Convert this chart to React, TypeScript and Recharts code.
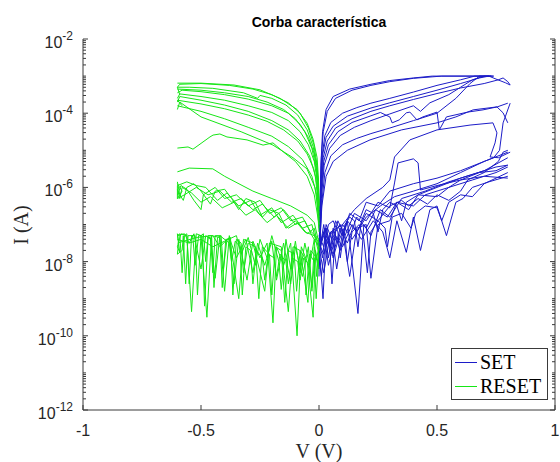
import { LineChart, Line, XAxis, YAxis } from 'recharts'

// each curve: [V, log10(I)] pairs
type Pt = [number, number]

// SET sweeps (blue), high-current branch
const setU1: Pt[] = [[0, -8.4], [0.004, -6.6], [0.008, -5.4], [0.015, -4.5], [0.03, -3.9], [0.06, -3.55], [0.13, -3.35], [0.22, -3.22], [0.3, -3.12], [0.4, -3.05], [0.48, -3.0], [0.72, -3.0], [0.75, -3.08], [0.79, -3.18], [0.81, -3.24]]
const setU2: Pt[] = [[0, -7.9], [0.005, -6.3], [0.01, -5.2], [0.018, -4.5], [0.035, -3.95], [0.07, -3.6], [0.14, -3.38], [0.22, -3.25], [0.3, -3.15], [0.4, -3.06], [0.52, -3.0], [0.74, -3.0]]
const setU3: Pt[] = [[0, -8.1], [0.006, -6.3], [0.012, -5.2], [0.025, -4.6], [0.05, -4.25], [0.1, -4.0], [0.16, -3.85], [0.22, -3.73], [0.3, -3.6], [0.4, -3.43], [0.5, -3.25], [0.6, -3.1], [0.66, -3.0], [0.73, -3.0]]
const setU4: Pt[] = [[0, -7.7], [0.008, -6.0], [0.016, -5.1], [0.03, -4.65], [0.06, -4.35], [0.12, -4.08], [0.22, -3.86], [0.3, -3.72], [0.4, -3.55], [0.5, -3.38], [0.6, -3.2], [0.68, -3.05], [0.72, -3.0]]
const setU5: Pt[] = [[0, -8.0], [0.008, -6.2], [0.018, -5.2], [0.035, -4.75], [0.07, -4.4], [0.14, -4.15], [0.22, -3.95], [0.3, -3.8], [0.4, -3.63], [0.5, -3.47], [0.6, -3.32], [0.7, -3.2], [0.76, -3.1], [0.78, -3.05], [0.8, -3.15], [0.81, -3.24]]
const setU6: Pt[] = [[0, -7.8], [0.01, -6.1], [0.02, -5.3], [0.04, -4.85], [0.08, -4.5], [0.14, -4.25], [0.22, -4.07], [0.26, -3.98], [0.3, -4.1], [0.31, -4.26], [0.34, -4.18], [0.37, -3.99], [0.385, -3.97], [0.415, -4.18], [0.44, -4.1], [0.5, -3.97], [0.51, -4.45], [0.54, -4.1], [0.63, -3.97], [0.695, -3.91], [0.755, -3.83], [0.8, -3.73]]
const setU7: Pt[] = [[0, -8.2], [0.01, -6.3], [0.022, -5.4], [0.045, -4.95], [0.09, -4.6], [0.15, -4.38], [0.22, -4.2], [0.3, -4.02], [0.4, -3.8], [0.43, -3.95], [0.47, -3.72], [0.55, -3.5], [0.6, -3.3], [0.65, -3.1], [0.7, -3.0], [0.74, -3.0]]
const setU8: Pt[] = [[0, -7.9], [0.012, -6.4], [0.025, -5.6], [0.05, -5.15], [0.1, -4.85], [0.16, -4.68], [0.22, -4.55], [0.3, -4.4], [0.4, -4.2], [0.5, -4.0], [0.58, -3.6], [0.64, -3.2], [0.68, -3.0], [0.73, -3.0]]
const setU9: Pt[] = [[0, -8.0], [0.012, -6.5], [0.03, -5.7], [0.06, -5.3], [0.12, -5.0], [0.216, -4.72], [0.35, -4.45], [0.5, -4.26], [0.58, -4.1], [0.653, -3.91], [0.754, -3.83], [0.78, -3.99], [0.8, -4.26]]

// SET sweeps (blue), low-current noisy branch
const setN1: Pt[] = [[0, -7.5], [0.017, -9.0], [0.03, -7.3], [0.05, -7.6], [0.07, -6.9], [0.1, -7.3], [0.13, -6.7], [0.17, -6.9], [0.2, -6.4], [0.25, -6.5], [0.3, -6.1], [0.4, -5.9], [0.5, -5.75], [0.6, -5.55], [0.7, -5.3], [0.8, -5.05]]
const setN2: Pt[] = [[0, -7.8], [0.02, -7.0], [0.04, -7.9], [0.06, -7.1], [0.09, -7.7], [0.12, -6.9], [0.165, -9.4], [0.19, -7.0], [0.22, -7.3], [0.26, -6.6], [0.3, -6.8], [0.35, -6.3], [0.45, -6.1], [0.55, -5.85], [0.65, -5.65], [0.75, -5.45], [0.8, -5.4]]
const setN3: Pt[] = [[0, -7.4], [0.015, -7.9], [0.03, -7.0], [0.06, -7.5], [0.075, -8.2], [0.1, -7.2], [0.13, -8.4], [0.16, -7.1], [0.2, -7.0], [0.22, -8.45], [0.25, -7.0], [0.3, -6.9], [0.33, -6.4], [0.4, -6.5], [0.45, -6.2], [0.55, -6.0], [0.65, -5.8], [0.75, -5.6], [0.8, -5.45]]
const setN4: Pt[] = [[0, -7.7], [0.02, -7.2], [0.04, -8.1], [0.07, -7.3], [0.1, -7.6], [0.14, -7.0], [0.18, -7.4], [0.23, -6.9], [0.27, -7.2], [0.3, -7.9], [0.33, -6.9], [0.37, -7.75], [0.4, -6.8], [0.43, -7.7], [0.47, -6.6], [0.5, -6.5], [0.54, -7.3], [0.58, -6.4], [0.61, -6.3], [0.65, -6.0], [0.72, -5.85], [0.8, -5.7]]
const setN5: Pt[] = [[0, -7.6], [0.025, -7.1], [0.05, -7.7], [0.08, -6.9], [0.11, -7.3], [0.15, -6.7], [0.2, -6.9], [0.25, -6.4], [0.3, -6.55], [0.32, -5.88], [0.335, -5.34], [0.4, -5.23], [0.42, -5.34], [0.43, -6.07], [0.5, -5.95], [0.6, -5.8], [0.7, -5.7], [0.8, -5.75]]
const setN6: Pt[] = [[0, -7.9], [0.01, -8.4], [0.03, -7.4], [0.06, -7.8], [0.09, -7.1], [0.12, -7.5], [0.16, -6.8], [0.2, -7.1], [0.24, -6.6], [0.29, -6.8], [0.33, -6.4], [0.38, -6.6], [0.42, -6.2], [0.5, -6.25], [0.55, -6.0], [0.6, -5.8], [0.68, -5.6], [0.75, -5.55], [0.8, -5.4]]
const setN7: Pt[] = [[0, -7.5], [0.02, -7.8], [0.05, -7.2], [0.08, -7.5], [0.12, -6.9], [0.16, -7.2], [0.2, -6.7], [0.25, -6.9], [0.3, -6.5], [0.35, -6.35], [0.38, -6.5], [0.42, -6.3], [0.46, -6.45], [0.5, -6.2], [0.55, -6.35], [0.6, -6.1], [0.63, -5.8], [0.7, -5.6], [0.76, -5.3], [0.78, -5.05], [0.8, -5.0]]
const setN8: Pt[] = [[0, -7.3], [0.02, -7.6], [0.04, -7.0], [0.06, -6.9], [0.08, -7.2], [0.09, -7.9], [0.11, -7.0], [0.13, -6.8], [0.15, -6.9], [0.165, -7.6], [0.18, -6.9], [0.2, -6.6], [0.23, -6.7], [0.25, -7.2], [0.27, -6.6], [0.3, -6.4], [0.33, -6.5], [0.35, -6.9], [0.37, -6.4], [0.42, -6.2], [0.5, -6.0], [0.6, -5.75], [0.7, -5.55], [0.8, -5.2]]
const setN9: Pt[] = [[0, -7.9], [0.015, -7.3], [0.03, -7.1], [0.045, -7.5], [0.055, -8.6], [0.07, -7.2], [0.09, -7.0], [0.11, -7.3], [0.12, -8.0], [0.14, -7.2], [0.17, -7.0], [0.19, -7.4], [0.205, -8.3], [0.22, -7.2], [0.25, -6.9], [0.28, -7.1], [0.29, -7.6], [0.31, -6.8], [0.35, -6.7], [0.39, -7.1], [0.41, -6.7], [0.45, -6.5], [0.5, -6.55], [0.52, -6.9], [0.55, -6.4], [0.6, -6.2], [0.65, -6.25], [0.7, -5.9], [0.75, -5.75], [0.8, -5.6]]
const setC1: Pt[] = [[0, -7.6], [0.02, -8.3], [0.05, -7.2], [0.1, -7.0], [0.15, -6.6], [0.2, -6.3], [0.27, -6.0], [0.3, -5.8], [0.32, -5.18], [0.385, -4.72], [0.5, -4.45], [0.64, -4.32], [0.737, -4.26], [0.754, -4.53], [0.746, -4.8], [0.725, -5.18], [0.76, -5.2], [0.81, -5.05]]
const setC2: Pt[] = [[0, -7.7], [0.03, -7.1], [0.06, -7.9], [0.1, -7.0], [0.14, -7.4], [0.2, -6.8], [0.26, -6.5], [0.32, -6.25], [0.4, -6.1], [0.5, -5.9], [0.6, -5.6], [0.7, -5.3], [0.74, -5.2], [0.765, -5.0], [0.78, -4.26], [0.81, -3.73]]

// RESET sweeps (green), high-current branch
const resetH1: Pt[] = [[-0.6, -3.19], [-0.5, -3.19], [-0.36, -3.24], [-0.25, -3.37], [-0.165, -3.6], [-0.093, -3.9], [-0.05, -4.27], [-0.025, -4.7], [-0.008, -5.2], [-0.002, -5.8], [0, -6.6]]
const resetH2: Pt[] = [[-0.6, -3.3], [-0.59, -3.22], [-0.5, -3.2], [-0.38, -3.25], [-0.28, -3.35], [-0.2, -3.5], [-0.13, -3.72], [-0.08, -4.0], [-0.045, -4.4], [-0.022, -4.85], [-0.008, -5.4], [0, -6.4]]
const resetH3: Pt[] = [[-0.59, -3.5], [-0.6, -3.3], [-0.55, -3.3], [-0.45, -3.33], [-0.32, -3.45], [-0.26, -3.6], [-0.25, -3.52], [-0.2, -3.6], [-0.14, -3.78], [-0.09, -4.05], [-0.05, -4.45], [-0.025, -4.9], [-0.01, -5.4], [0, -6.5]]
const resetH4: Pt[] = [[-0.6, -3.45], [-0.58, -3.38], [-0.5, -3.42], [-0.4, -3.5], [-0.3, -3.62], [-0.2, -3.8], [-0.13, -4.0], [-0.08, -4.3], [-0.045, -4.65], [-0.02, -5.1], [-0.006, -5.7], [0, -6.9]]
const resetH5: Pt[] = [[-0.6, -3.6], [-0.59, -3.48], [-0.5, -3.55], [-0.4, -3.65], [-0.3, -3.8], [-0.2, -3.98], [-0.13, -4.2], [-0.08, -4.5], [-0.045, -4.85], [-0.02, -5.3], [-0.006, -5.9], [0, -7.0]]
const resetH6: Pt[] = [[-0.58, -3.8], [-0.6, -3.65], [-0.5, -3.75], [-0.4, -3.88], [-0.3, -4.05], [-0.22, -4.22], [-0.15, -4.45], [-0.09, -4.75], [-0.05, -5.1], [-0.022, -5.5], [-0.007, -6.0], [0, -7.1]]
const resetH7: Pt[] = [[-0.6, -3.8], [-0.5, -3.95], [-0.4, -4.15], [-0.3, -4.38], [-0.2, -4.62], [-0.13, -4.9], [-0.07, -5.25], [-0.03, -5.7], [-0.01, -6.2], [0, -7.2]]
const resetH8: Pt[] = [[-0.6, -3.9], [-0.59, -3.7], [-0.5, -4.1], [-0.33, -4.5], [-0.195, -4.86], [-0.11, -5.2], [-0.051, -5.5], [-0.017, -6.0], [0, -6.8]]
const resetH9: Pt[] = [[-0.6, -3.35], [-0.5, -3.38], [-0.4, -3.45], [-0.3, -3.55], [-0.22, -3.7], [-0.15, -3.9], [-0.1, -4.15], [-0.06, -4.5], [-0.03, -4.95], [-0.012, -5.5], [0, -6.5]]
const resetH10: Pt[] = [[-0.6, -3.7], [-0.59, -3.55], [-0.5, -3.65], [-0.4, -3.78], [-0.3, -3.95], [-0.2, -4.2], [-0.13, -4.45], [-0.08, -4.75], [-0.04, -5.15], [-0.015, -5.7], [0, -6.7]]

// RESET sweeps (green), intermediate branch
const resetM1: Pt[] = [[-0.6, -4.94], [-0.555, -4.91], [-0.534, -4.97], [-0.462, -4.64], [-0.449, -4.59], [-0.42, -4.56], [-0.39, -4.64], [-0.305, -4.72], [-0.237, -4.86], [-0.195, -4.8], [-0.15, -5.05], [-0.1, -5.3], [-0.05, -5.7], [-0.02, -6.2], [0, -7.0]]
const resetM2: Pt[] = [[-0.6, -5.58], [-0.55, -5.48], [-0.45, -5.5], [-0.4, -5.7], [-0.28, -6.1], [-0.2, -6.3], [-0.12, -6.5], [-0.05, -6.75], [-0.02, -6.95], [0, -7.5]]
const resetM3: Pt[] = [[-0.6, -5.9], [-0.58, -6.1], [-0.6, -6.3], [-0.57, -6.2], [-0.52, -6.0], [-0.47, -6.2], [-0.42, -6.1], [-0.37, -6.4], [-0.33, -6.3], [-0.28, -6.6], [-0.24, -6.45], [-0.19, -6.8], [-0.15, -6.6], [-0.1, -7.0], [-0.06, -6.9], [-0.03, -7.3], [0, -7.6]]
const resetM4: Pt[] = [[-0.6, -6.05], [-0.59, -6.3], [-0.58, -6.0], [-0.54, -6.15], [-0.5, -6.4], [-0.46, -6.25], [-0.41, -6.55], [-0.36, -6.4], [-0.31, -6.75], [-0.27, -6.6], [-0.22, -6.95], [-0.18, -6.75], [-0.13, -7.1], [-0.09, -6.95], [-0.05, -7.25], [-0.02, -7.1], [0, -7.7]]
const resetM5: Pt[] = [[-0.6, -6.2], [-0.585, -5.95], [-0.56, -6.05], [-0.53, -6.35], [-0.5, -6.6], [-0.49, -6.2], [-0.44, -6.0], [-0.4, -6.3], [-0.35, -6.2], [-0.3, -6.5], [-0.25, -6.35], [-0.21, -6.7], [-0.16, -6.55], [-0.12, -6.9], [-0.07, -6.8], [-0.04, -7.15], [0, -7.4]]
const resetM6: Pt[] = [[-0.6, -6.3], [-0.6, -5.95], [-0.56, -5.85], [-0.52, -5.95], [-0.48, -6.0], [-0.43, -6.35], [-0.39, -6.15], [-0.34, -6.5], [-0.29, -6.35], [-0.25, -6.75], [-0.2, -6.55], [-0.16, -6.95], [-0.11, -6.75], [-0.07, -7.1], [-0.03, -7.0], [0, -7.8]]
const resetM7: Pt[] = [[-0.6, -5.85], [-0.59, -6.2], [-0.575, -6.35], [-0.56, -6.0], [-0.53, -5.9], [-0.5, -6.1], [-0.46, -6.45], [-0.44, -6.1], [-0.4, -6.05], [-0.37, -6.3], [-0.34, -6.6], [-0.31, -6.3], [-0.27, -6.4], [-0.24, -6.8], [-0.21, -6.6], [-0.17, -6.7], [-0.14, -7.1], [-0.1, -6.9], [-0.06, -7.2], [-0.02, -7.3], [0, -7.5]]

// RESET sweeps (green), low-current noisy branch
const resetL1: Pt[] = [[-0.6, -7.25], [-0.59, -7.75], [-0.6, -7.6], [-0.585, -7.25], [-0.56, -7.3], [-0.54, -9.35], [-0.52, -7.25], [-0.5, -7.3], [-0.475, -9.5], [-0.455, -7.3], [-0.42, -7.35], [-0.4, -8.8], [-0.38, -7.3], [-0.34, -9.0], [-0.32, -7.4], [-0.28, -7.5], [-0.23, -8.8], [-0.21, -7.5], [-0.16, -7.6], [-0.13, -9.35], [-0.11, -7.6], [-0.08, -7.7], [-0.047, -9.1], [-0.035, -7.7], [-0.01, -7.9], [0, -7.6]]
const resetL2: Pt[] = [[-0.6, -7.3], [-0.57, -7.25], [-0.55, -7.5], [-0.53, -7.25], [-0.5, -8.2], [-0.48, -7.3], [-0.46, -7.4], [-0.44, -8.45], [-0.42, -7.3], [-0.38, -7.5], [-0.36, -8.6], [-0.34, -7.4], [-0.305, -8.5], [-0.28, -7.45], [-0.25, -7.9], [-0.22, -7.5], [-0.195, -9.65], [-0.18, -7.6], [-0.15, -8.1], [-0.12, -7.5], [-0.093, -10.0], [-0.075, -7.6], [-0.05, -8.0], [-0.025, -9.5], [-0.015, -7.7], [0, -8.2]]
const resetL3: Pt[] = [[-0.6, -7.4], [-0.55, -7.5], [-0.5, -7.4], [-0.45, -7.6], [-0.4, -7.45], [-0.35, -7.3], [-0.33, -7.8], [-0.3, -7.35], [-0.27, -8.1], [-0.25, -7.4], [-0.22, -7.9], [-0.2, -7.3], [-0.17, -8.0], [-0.16, -8.75], [-0.14, -7.4], [-0.12, -8.2], [-0.1, -7.45], [-0.08, -8.3], [-0.06, -7.5], [-0.04, -8.1], [-0.02, -7.4], [-0.01, -8.4], [0, -7.6]]
const resetL4: Pt[] = [[-0.6, -7.5], [-0.52, -7.35], [-0.45, -7.3], [-0.42, -7.6], [-0.38, -7.35], [-0.35, -7.9], [-0.31, -7.4], [-0.28, -8.3], [-0.26, -7.5], [-0.23, -8.1], [-0.2, -7.45], [-0.18, -8.5], [-0.15, -7.5], [-0.12, -8.6], [-0.1, -7.6], [-0.07, -8.4], [-0.045, -7.6], [-0.03, -8.7], [-0.02, -7.6], [-0.005, -8.1], [0, -7.5]]
const resetL5: Pt[] = [[-0.6, -7.3], [-0.59, -7.25], [-0.58, -8.3], [-0.57, -7.3], [-0.56, -7.25], [-0.55, -8.6], [-0.54, -7.3], [-0.525, -7.3], [-0.515, -8.9], [-0.5, -7.3], [-0.49, -7.25], [-0.48, -8.0], [-0.47, -7.3], [-0.455, -7.3], [-0.445, -8.7], [-0.43, -7.35], [-0.415, -7.3], [-0.405, -8.2], [-0.39, -7.4], [-0.375, -7.35], [-0.365, -8.9], [-0.35, -7.4], [-0.33, -7.5], [-0.32, -8.3], [-0.3, -7.5], [-0.27, -7.6], [-0.255, -9.0], [-0.24, -7.6], [-0.21, -7.8], [-0.2, -8.9], [-0.185, -7.6], [-0.16, -7.7], [-0.145, -9.1], [-0.13, -7.7], [-0.105, -7.8], [-0.095, -8.8], [-0.08, -7.7], [-0.06, -7.9], [-0.055, -8.9], [-0.04, -7.8], [-0.02, -8.0], [-0.012, -9.0], [0, -7.8]]
const resetL6: Pt[] = [[-0.6, -7.25], [-0.595, -7.5], [-0.6, -7.8], [-0.58, -7.7], [-0.575, -7.3], [-0.565, -8.6], [-0.555, -7.3], [-0.535, -7.3], [-0.525, -8.1], [-0.51, -7.3], [-0.495, -7.3], [-0.485, -9.2], [-0.47, -7.35], [-0.46, -7.35], [-0.45, -8.3], [-0.44, -7.3], [-0.42, -7.3], [-0.41, -8.7], [-0.395, -7.4], [-0.38, -7.4], [-0.37, -8.0], [-0.355, -7.45], [-0.335, -7.6], [-0.325, -8.9], [-0.31, -7.6], [-0.29, -7.7], [-0.28, -8.6], [-0.265, -7.7], [-0.24, -7.9], [-0.23, -8.5], [-0.215, -7.8], [-0.19, -7.9], [-0.18, -8.4], [-0.165, -7.8], [-0.14, -8.0], [-0.13, -8.6], [-0.115, -7.9], [-0.09, -8.0], [-0.08, -8.5], [-0.065, -7.9], [-0.04, -8.1], [-0.03, -8.8], [-0.018, -7.9], [0, -8.0]]

const setCurves = [setU1, setU2, setU3, setU4, setU5, setU6, setU7, setU8, setU9, setN1, setN2, setN3, setN4, setN5, setN6, setN7, setN8, setN9, setC1, setC2]
const resetCurves = [resetH1, resetH2, resetH3, resetH4, resetH5, resetH6, resetH7, resetH8, resetH9, resetH10, resetM1, resetM2, resetM3, resetM4, resetM5, resetM6, resetM7, resetL1, resetL2, resetL3, resetL4, resetL5, resetL6]

const xTicks = [-1, -0.5, 0, 0.5, 1]
const decades = [-12, -11, -10, -9, -8, -7, -6, -5, -4, -3]
const labelledDecades = [-12, -10, -8, -6, -4, -2]

const yTicks: number[] = []
decades.forEach(d => {
  for (let k = 1; k <= 9; k++) yTicks.push(k * Math.pow(10, d))
})
yTicks.push(1e-2)

const SET_COLOR = '#1c1cc8'
const RESET_COLOR = '#16e616'
const AXIS = '#3a3a3a'
const SANS = '"Liberation Sans", Arial, Helvetica, sans-serif'
const SERIF = '"Liberation Serif", "Times New Roman", serif'

const toRows = (c: Pt[]) => c.map(([v, e]) => ({ v, i: Math.pow(10, e) }))

function tickInfo(value: number) {
  const lg = Math.log10(value)
  const e = Math.round(lg)
  const decade = Math.abs(lg - e) < 1e-6
  return { e, major: decade && labelledDecades.includes(e) }
}

function LeftTick({ x, y, payload }: any) {
  const { e, major } = tickInfo(payload.value)
  return (
    <g>
      <line x1={x} x2={x + (major ? 5 : 3)} y1={y} y2={y} stroke={AXIS} strokeWidth={1} />
      {major && (
        <text x={x - 10} y={y + 9} textAnchor="end" fontFamily={SANS} fontSize={16} fill="#262626">
          10<tspan dy={-8} fontSize={12}>{e}</tspan>
        </text>
      )}
    </g>
  )
}

function RightTick({ x, y, payload }: any) {
  const { major } = tickInfo(payload.value)
  return <line x1={x} x2={x - (major ? 5 : 3)} y1={y} y2={y} stroke={AXIS} strokeWidth={1} />
}

function BottomTick({ x, y, payload }: any) {
  return (
    <g>
      <line x1={x} x2={x} y1={y} y2={y - 5} stroke={AXIS} strokeWidth={1} />
      <text x={x} y={y + 26} textAnchor="middle" fontFamily={SANS} fontSize={16} fill="#262626">
        {String(payload.value)}
      </text>
    </g>
  )
}

function TopTick({ x, y }: any) {
  return <line x1={x} x2={x} y1={y} y2={y + 5} stroke={AXIS} strokeWidth={1} />
}

export default function App() {
  return (
    <div style={{ position: 'absolute', left: 0, top: 0, width: 560, height: 462, background: '#fff' }}>
      <LineChart width={560} height={462} margin={{ top: 39, right: 0, bottom: 0, left: 0 }}>
        <XAxis
          xAxisId="b" type="number" dataKey="v" domain={[-1, 1]} ticks={xTicks} interval={0}
          allowDataOverflow height={52} tickSize={0} tickMargin={0} tick={BottomTick}
          axisLine={{ stroke: AXIS }} tickLine={false}
        />
        <XAxis
          xAxisId="t" orientation="top" type="number" dataKey="v" domain={[-1, 1]} ticks={xTicks} interval={0}
          allowDataOverflow height={0} tickSize={0} tickMargin={0} tick={TopTick}
          axisLine={{ stroke: AXIS }} tickLine={false}
        />
        <YAxis
          yAxisId="l" type="number" scale="log" domain={[1e-12, 1e-2]} ticks={yTicks} interval={0}
          allowDataOverflow width={83} tickSize={0} tickMargin={0} tick={LeftTick}
          axisLine={{ stroke: AXIS }} tickLine={false}
        />
        <YAxis
          yAxisId="r" orientation="right" type="number" scale="log" domain={[1e-12, 1e-2]} ticks={yTicks} interval={0}
          allowDataOverflow width={5} tickSize={0} tickMargin={0} tick={RightTick}
          axisLine={{ stroke: AXIS }} tickLine={false}
        />
        {setCurves.map((c, idx) => (
          <Line
            key={'set' + idx} xAxisId="b" yAxisId="l" data={toRows(c)} dataKey="i" name="SET"
            stroke={SET_COLOR} strokeWidth={1} dot={false} activeDot={false} isAnimationActive={false}
          />
        ))}
        {resetCurves.map((c, idx) => (
          <Line
            key={'reset' + idx} xAxisId="b" yAxisId="l" data={toRows(c)} dataKey="i" name="RESET"
            stroke={RESET_COLOR} strokeWidth={1} dot={false} activeDot={false} isAnimationActive={false}
          />
        ))}
      </LineChart>
      <svg width={560} height={462} style={{ position: 'absolute', left: 0, top: 0, pointerEvents: 'none' }}>
        <text x={319} y={27} textAnchor="middle" fontFamily={SANS} fontSize={14} fontWeight="bold" fill="#000">
          Corba característica
        </text>
        <text x={319} y={458} textAnchor="middle" fontFamily={SERIF} fontSize={20} fill="#262626">
          V (V)
        </text>
        <text transform="translate(28,225) rotate(-90)" textAnchor="middle" fontFamily={SERIF} fontSize={20} fill="#262626">
          I (A)
        </text>
        <rect x={451.5} y={348.5} width={96} height={51} fill="#fff" stroke={AXIS} strokeWidth={1} />
        <line x1={455} x2={477} y1={362.5} y2={362.5} stroke={SET_COLOR} strokeWidth={1} />
        <text x={480} y={369} fontFamily={SERIF} fontSize={20} fill="#000">SET</text>
        <line x1={455} x2={477} y1={386.5} y2={386.5} stroke={RESET_COLOR} strokeWidth={1} />
        <text x={480} y={393} fontFamily={SERIF} fontSize={20} fill="#000">RESET</text>
      </svg>
    </div>
  )
}
